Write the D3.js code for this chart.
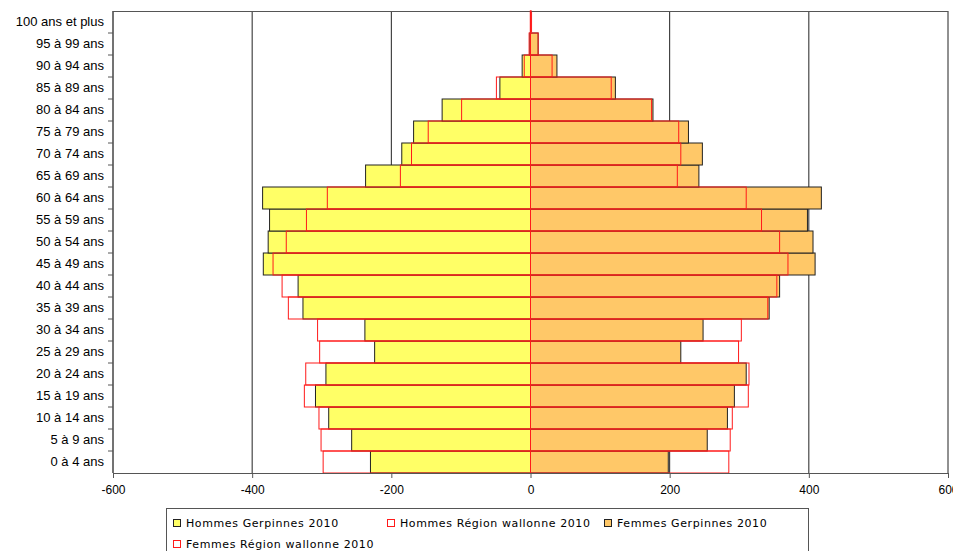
<!DOCTYPE html>
<html lang="fr">
<head>
<meta charset="UTF-8">
<title>Pyramide des âges Gerpinnes 2010</title>
<style>
    body { margin: 0; background: #fff; }
    svg { display: block; }
    .axis text { font-family: 'Liberation Sans', Arial, sans-serif; font-size: 13px; fill: #000; }
    .legend text { font-family: 'DejaVu Sans', Verdana, sans-serif; font-size: 11px; letter-spacing: 0.6px; fill: #000; }
</style>
</head>
<body>
<svg id="chart" width="953" height="551"></svg>
<script src="https://d3js.org/d3.v7.min.js"></script>
<script>
// age classes, youngest first
const ages = ["0 à 4 ans", "5 à 9 ans", "10 à 14 ans", "15 à 19 ans", "20 à 24 ans", "25 à 29 ans",
    "30 à 34 ans", "35 à 39 ans", "40 à 44 ans", "45 à 49 ans", "50 à 54 ans", "55 à 59 ans",
    "60 à 64 ans", "65 à 69 ans", "70 à 74 ans", "75 à 79 ans", "80 à 84 ans", "85 à 89 ans",
    "90 à 94 ans", "95 à 99 ans", "100 ans et plus"];
const hommesGerp   = [230, 257, 290, 309, 294, 224, 238, 327, 334, 384, 377, 375, 385, 237, 185, 168, 127, 44, 12, 1, 0];
const hommesRegion = [298, 301, 304, 325, 323, 303, 306, 348, 357, 370, 351, 322, 292, 187, 171, 147, 99, 49, 9, 2, 0.3];
const femmesGerp   = [198, 254, 283, 293, 310, 216, 248, 343, 358, 409, 406, 398, 418, 242, 247, 227, 176, 122, 38, 11, 0];
const femmesRegion = [285, 287, 290, 313, 314, 299, 303, 341, 354, 370, 358, 332, 310, 211, 216, 213, 174, 116, 31, 11, 1.5];
const xTicks = [-600, -400, -200, 0, 200, 400, 600];
const legendLabels = ["Hommes Gerpinnes 2010", "Hommes Région wallonne 2010", "Femmes Gerpinnes 2010", "Femmes Région wallonne 2010"];

const svg = d3.select('#chart');
const plotLeft = 113, plotRight = 948, plotTop = 11, plotBottom = 473;

const x = d3.scaleLinear().domain([-600, 600]).range([plotLeft, plotRight]);
const y = d3.scaleBand().domain(ages.slice().reverse()).range([plotTop, plotBottom]).padding(0);

// grid lines
svg.append('g').selectAll('line')
    .data(xTicks)
    .enter().append('line')
    .attr('x1', d => x(d)).attr('x2', d => x(d))
    .attr('y1', plotTop).attr('y2', plotBottom)
    .attr('stroke', '#222')
    .attr('stroke-width', 1);

// top frame line
svg.append('line')
    .attr('x1', plotLeft).attr('x2', plotRight)
    .attr('y1', plotTop + 0.5).attr('y2', plotTop + 0.5)
    .attr('stroke', '#555');

function bars(values, sign, fill, stroke) {
    svg.append('g').selectAll('rect')
        .data(values)
        .enter().append('rect')
        .attr('x', d => sign < 0 ? x(-d) : x(0))
        .attr('width', d => Math.abs(x(d) - x(0)))
        .attr('y', (d, i) => y(ages[i]))
        .attr('height', y.bandwidth())
        .attr('fill', fill)
        .attr('stroke', stroke)
        .attr('stroke-width', 1);
}

bars(hommesGerp, -1, '#ffff66', '#222');
bars(hommesRegion, -1, 'none', '#ff1a1a');
bars(femmesGerp, 1, '#ffc868', '#222');
bars(femmesRegion, 1, 'none', '#ff1a1a');

// y axis with ticks at class boundaries
const yAxis = svg.append('g').attr('class', 'axis');
yAxis.append('line')
    .attr('x1', plotLeft).attr('x2', plotLeft)
    .attr('y1', plotTop).attr('y2', plotBottom)
    .attr('stroke', '#555');
yAxis.selectAll('.tk')
    .data(ages.slice(0, -1))
    .enter().append('line')
    .attr('class', 'tk')
    .attr('x1', plotLeft - 5).attr('x2', plotLeft)
    .attr('y1', d => y(d)).attr('y2', d => y(d))
    .attr('stroke', '#555');
yAxis.selectAll('text')
    .data(ages)
    .enter().append('text')
    .attr('x', plotLeft - 9)
    .attr('y', d => y(d) + y.bandwidth() / 2 - 1)
    .attr('dy', '0.35em')
    .attr('text-anchor', 'end')
    .text(d => d);

// x axis (plain hyphen for negatives, as in the original)
const xAxis = svg.append('g')
    .attr('class', 'axis')
    .attr('transform', `translate(0,${plotBottom})`)
    .call(d3.axisBottom(x).tickValues(xTicks).tickSize(5).tickPadding(7).tickFormat(d => String(d)));
xAxis.select('.domain').attr('stroke', '#555');
xAxis.selectAll('.tick line').attr('stroke', '#555');
xAxis.selectAll('text').style('font-size', '12px');

// legend
const legend = svg.append('g').attr('class', 'legend');
legend.append('rect')
    .attr('x', 166.5).attr('y', 508.5)
    .attr('width', 642).attr('height', 60)
    .attr('fill', '#fff')
    .attr('stroke', '#555');

const legendPos = [[173, 519], [387, 519], [604, 519], [173, 540]];
const legendFill = ['#ffff66', '#fff', '#ffc868', '#fff'];
const legendStroke = ['#222', '#ff1a1a', '#222', '#ff1a1a'];
legendLabels.forEach((lab, i) => {
    const [lx, ly] = legendPos[i];
    legend.append('rect')
        .attr('x', lx + 0.5).attr('y', ly + 0.5)
        .attr('width', 7).attr('height', 7)
        .attr('fill', legendFill[i])
        .attr('stroke', legendStroke[i]);
    legend.append('text')
        .attr('x', lx + 13)
        .attr('y', ly + 4)
        .attr('dy', '0.35em')
        .text(lab);
});
</script>
</body>
</html>
